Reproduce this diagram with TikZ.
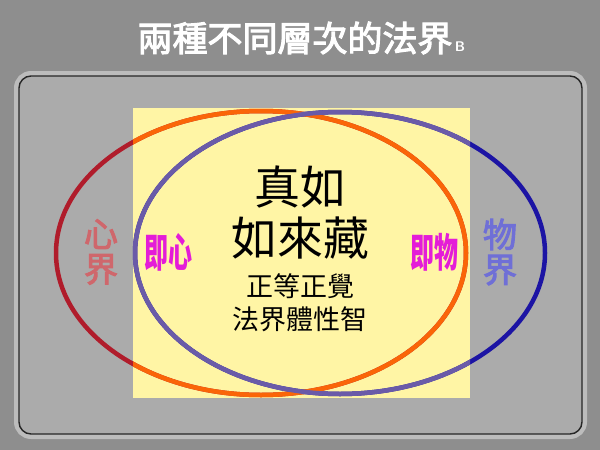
\documentclass[tikz,border=0pt]{standalone}
\usepackage{fontspec}
\newfontfamily\cjk{Noto Sans CJK TC}
\newfontfamily\cjkmid{Noto Sans CJK TC}[FakeBold=3]
\usetikzlibrary{positioning}
\definecolor{bggray}{HTML}{8E8E8E}
\definecolor{panelgray}{HTML}{ABABAB}
\definecolor{panelrim}{HTML}{BCBCBC}
\definecolor{paleyellow}{HTML}{FFF5A5}
\definecolor{mindred}{HTML}{B01C2B}
\definecolor{mindorange}{HTML}{FA6508}
\definecolor{matterblue}{HTML}{1C14A4}
\definecolor{mattermauve}{HTML}{6A5BA8}
\definecolor{mindtext}{HTML}{CF676C}
\definecolor{mattertext}{HTML}{6F6FD6}
\definecolor{jimagenta}{HTML}{E41CD8}
\tikzset{
    panel/.style={draw=black!85, line width=1.4pt, fill=panelgray, rounded corners=12pt},
    rim/.style={draw=panelrim, line width=6pt, rounded corners=14pt},
    ring/.style={line width=4.5pt},
    titletext/.style={text=white, font=\cjkmid\fontsize{35}{35}\selectfont, inner sep=0pt},
    bigtext/.style={font=\cjk\fontsize{46}{46}\selectfont, inner sep=0pt},
    smalltext/.style={font=\cjk\fontsize{27}{27}\selectfont, inner sep=0pt},
    realm/.style={font=\cjkmid\fontsize{34}{35}\selectfont, align=center, inner sep=0pt},
    identity/.style={text=jimagenta, font=\cjk\bfseries\fontsize{40}{40}\selectfont, xscale=0.6, inner sep=0pt}
}
\begin{document}
\begin{tikzpicture}[x=1pt, y=-1pt]
    % Background and panel
    \fill [bggray] (0,0) rectangle (600,450);
    \useasboundingbox (0,0) rectangle (600,450);
    \draw [rim] (17,74) rectangle (584,436);
    \draw [panel] (19,76) rectangle (582,434);
    \fill [paleyellow] (133,108) rectangle (470,398);

    % Two realms
    \draw [ring, mindred] (261,253) ellipse [x radius=205, y radius=142];
    \draw [ring, matterblue] (340,253) ellipse [x radius=205, y radius=141];
    \begin{scope}
        \clip (133,108) rectangle (470,398);
        \draw [ring, mindorange] (261,253) ellipse [x radius=205, y radius=142];
        \draw [ring, mattermauve] (340,253) ellipse [x radius=205, y radius=141];
    \end{scope}

    % Title
    \node [titletext] (title) at (295,38) {兩種不同層次的法界};
    \node [anchor=base west, text=white, font=\sffamily\bfseries\fontsize{14}{14}\selectfont, inner sep=0pt, xshift=2pt] (titleB) at (title.base east) {B};

    % Centre
    \node [bigtext] (zhenru) at (300,187) {真如};
    \node [bigtext] (rulaizang) at (300,238) {如來藏};
    \node [smalltext] (zhengjue) at (300,286) {正等正覺};
    \node [smalltext] (tizhi) at (300,319) {法界體性智};

    % Sides
    \node [realm, text=mindtext] (xinjie) at (101,252) {心\\界};
    \node [realm, text=mattertext] (wujie) at (500,252) {物\\界};
    \node [identity] (jixin) at (168,252) {即心};
    \node [identity] (jiwu) at (434,252) {即物};
\end{tikzpicture}
\end{document}
